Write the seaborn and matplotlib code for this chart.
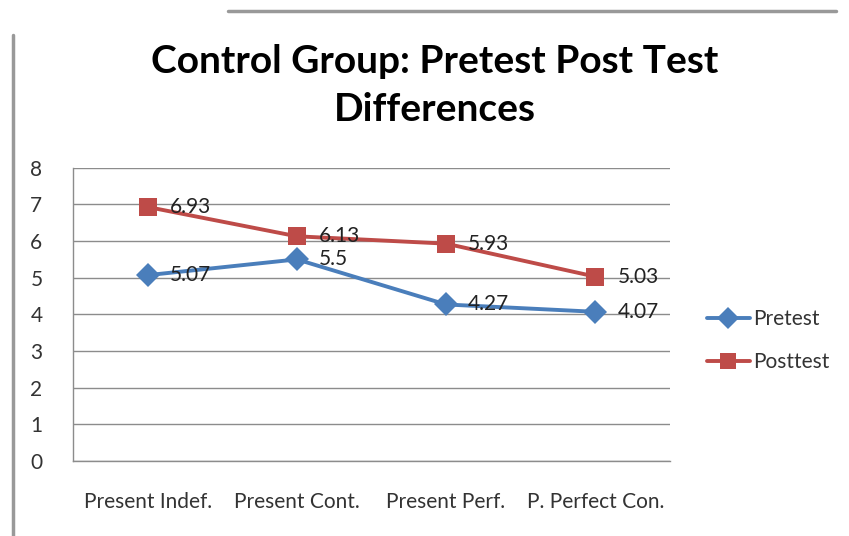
import numpy as np
import pandas as pd
import matplotlib
matplotlib.use('Agg')
import matplotlib.pyplot as plt
import seaborn as sns

categories = ['Present Indef.', 'Present Cont.', 'Present Perf.', 'P. Perfect Con.']
pretest = [5.07, 5.5, 4.27, 4.07]
posttest = [6.93, 6.13, 5.93, 5.03]

df = pd.DataFrame({
    'tense': categories * 2,
    'score': pretest + posttest,
    'test': ['Pretest'] * 4 + ['Posttest'] * 4,
})

sns.set_style('white')
plt.rcParams['font.family'] = ['Lato', 'DejaVu Sans']

fig = plt.figure(figsize=(8.49, 5.36), dpi=100)
ax = fig.add_axes([0.086, 0.140, 0.703, 0.547])

colors = {'Pretest': '#4a7ebb', 'Posttest': '#be4b48'}
sns.lineplot(data=df, x='tense', y='score', hue='test', style='test',
             palette=colors, markers={'Pretest': 'D', 'Posttest': 's'},
             dashes=False, linewidth=2.8, markersize=12.5, markeredgewidth=0,
             sort=False, ax=ax)

# value labels
for vals in (pretest, posttest):
    for i, v in enumerate(vals):
        ax.annotate(f'{v:g}', (i, v), xytext=(16, 0), textcoords='offset points',
                    ha='left', va='center', fontsize=15, color='#222222')

ax.set_xlim(-0.5, 3.5)
ax.set_ylim(0, 8)
ax.set_yticks(range(0, 9))
ax.yaxis.grid(True, color='#8c8c8c', linewidth=1)
ax.set_axisbelow(True)
for s in ['top', 'right']:
    ax.spines[s].set_visible(False)
for s in ['left', 'bottom']:
    ax.spines[s].set_color('#8c8c8c')
    ax.spines[s].set_linewidth(1)
ax.tick_params(axis='y', labelsize=15, labelcolor='#333333', pad=22, length=0)
ax.tick_params(axis='x', labelsize=15, labelcolor='#333333', pad=22, length=0)
ax.set_xlabel('')
ax.set_ylabel('')

handles, labels = ax.get_legend_handles_labels()
for h in handles:
    h.set_markersize(11)
ax.legend(handles, labels, loc='center left', bbox_to_anchor=(1.03, 0.41),
          frameon=False, fontsize=15, handlelength=2.1, labelspacing=1.1,
          handletextpad=0.15, labelcolor='#333333')

fig.text(0.512, 0.841, 'Control Group: Pretest Post Test\nDifferences',
         ha='center', va='center', fontsize=28, fontweight='bold',
         linespacing=1.45, color='black')

# page frame lines from the scanned image
fig.add_artist(plt.Line2D([0.015, 0.015], [0, 0.935], color='#999999', lw=2.5, transform=fig.transFigure))
fig.add_artist(plt.Line2D([0.269, 0.985], [0.979, 0.979], color='#999999', lw=2.5, transform=fig.transFigure))

fig.savefig('out.png', dpi=100)
